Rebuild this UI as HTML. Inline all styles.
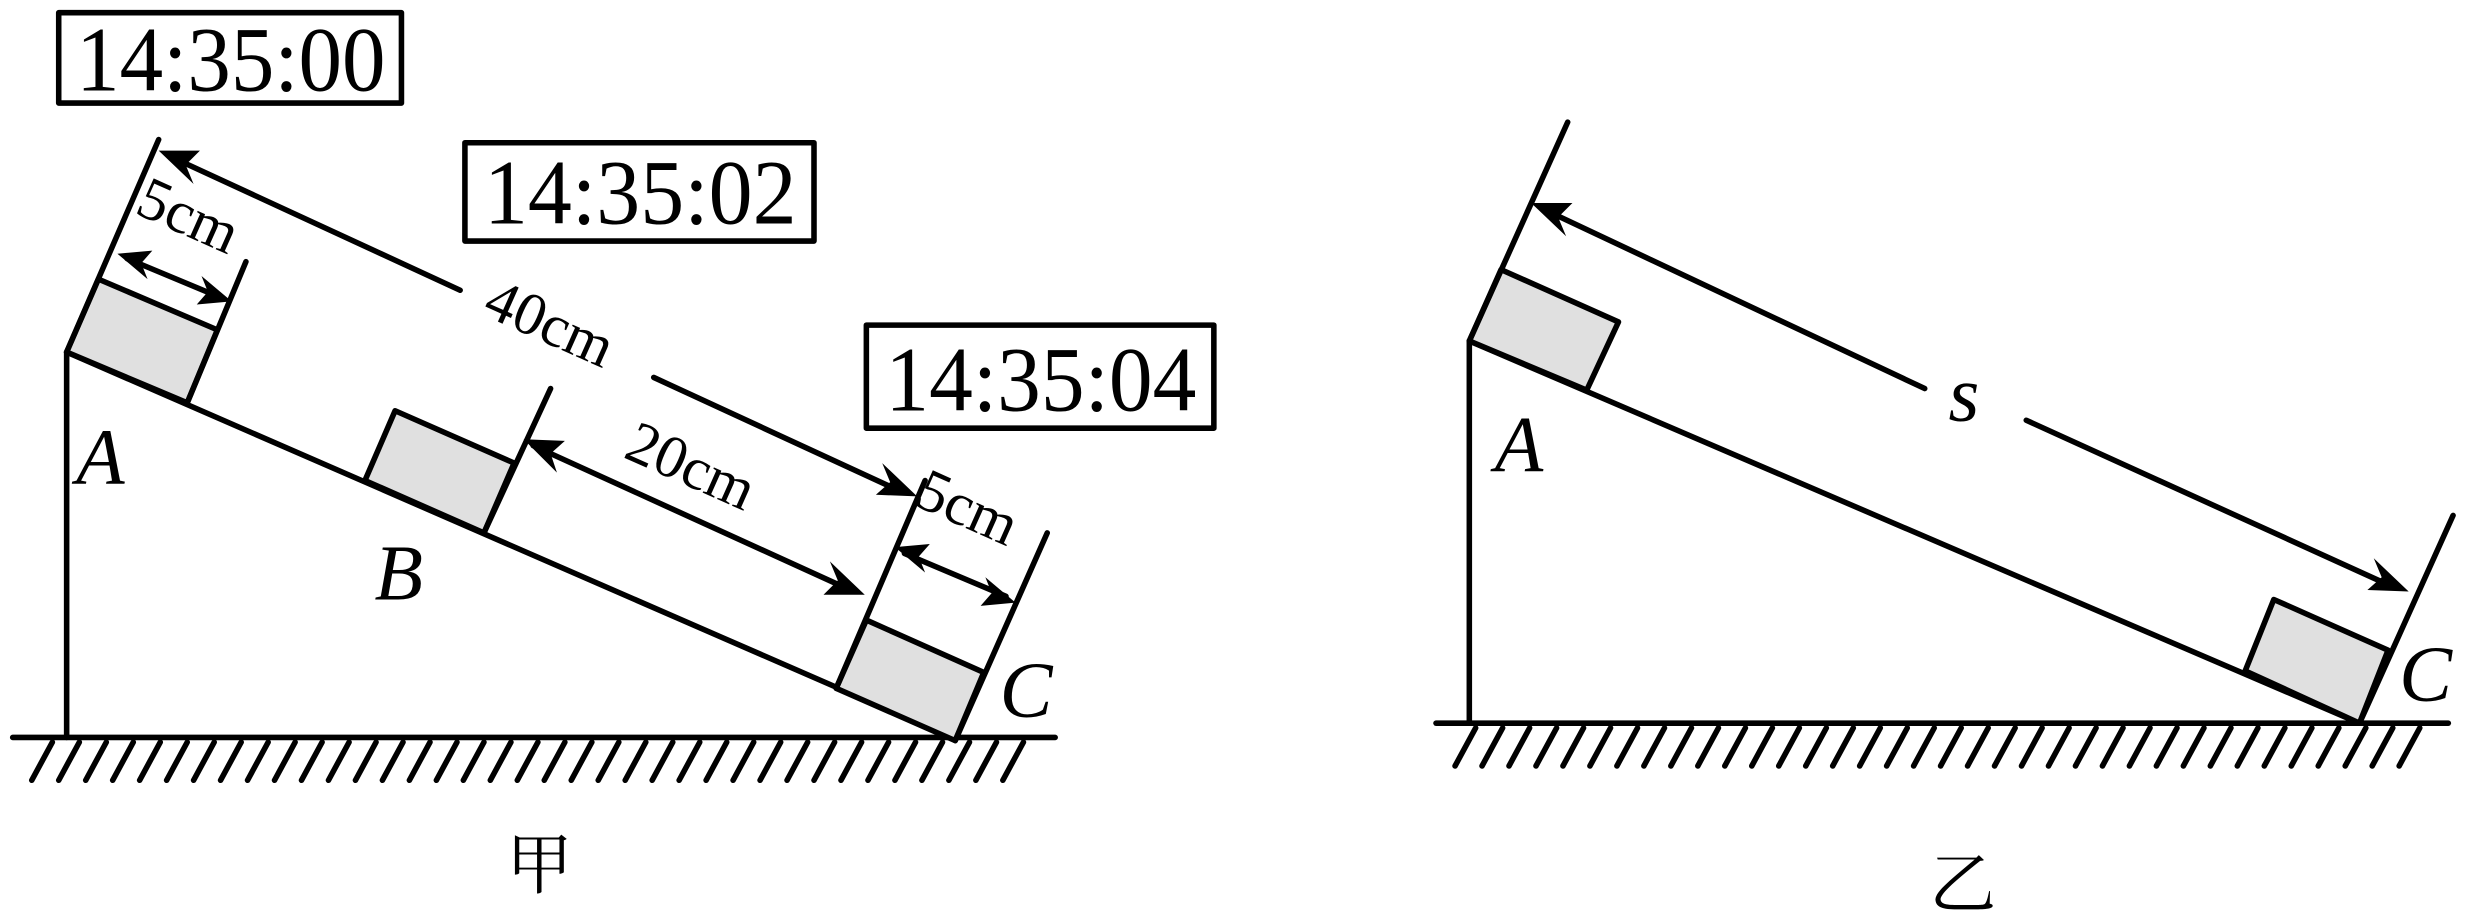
<!DOCTYPE html>
<html><head><meta charset="utf-8"><style>
html,body{margin:0;padding:0;background:#fff;}
svg{display:block;}
svg text{font-family:"Liberation Serif","Times New Roman","DejaVu Serif","Noto Serif CJK SC",serif;}
</style></head><body>
<svg width="2488" height="923" viewBox="0 0 1568 582" preserveAspectRatio="none" xmlns="http://www.w3.org/2000/svg">
<g stroke="#000" stroke-width="3.5" fill="none" stroke-linejoin="round" stroke-linecap="round">
<line x1="42" y1="222" x2="42" y2="465"/>
<line x1="8" y1="465" x2="665" y2="465"/>
<path d="M33,468 L20,492 M50,468 L37,492 M67,468 L54,492 M84,468 L71,492 M101,468 L88,492 M118,468 L105,492 M135,468 L122,492 M152,468 L139,492 M169,468 L156,492 M186,468 L173,492 M203,468 L190,492 M220,468 L207,492 M237,468 L224,492 M254,468 L241,492 M271,468 L258,492 M288,468 L275,492 M305,468 L292,492 M322,468 L309,492 M339,468 L326,492 M356,468 L343,492 M373,468 L360,492 M390,468 L377,492 M407,468 L394,492 M424,468 L411,492 M441,468 L428,492 M458,468 L445,492 M475,468 L462,492 M492,468 L479,492 M509,468 L496,492 M526,468 L513,492 M543,468 L530,492 M560,468 L547,492 M577,468 L564,492 M594,468 L581,492 M611,468 L598,492 M628,468 L615,492 M645,468 L632,492"/>
<line x1="42" y1="222" x2="602" y2="466"/>
<polygon points="42,222 118,254 137,208 62,176" fill="#e0e0e0"/>
<line x1="42" y1="222" x2="100" y2="88"/>
<line x1="118" y1="254" x2="155" y2="165"/>
<polygon points="230,303 305,336 324,292 249,259" fill="#e0e0e0"/>
<line x1="305" y1="336" x2="347" y2="245"/>
<polygon points="527,434 602,467 620,424 546,391" fill="#e0e0e0"/>
<line x1="527" y1="434" x2="583" y2="303"/>
<line x1="602" y1="467" x2="660" y2="336"/>
<line x1="108" y1="99" x2="290" y2="183"/>
<line x1="412" y1="238" x2="568" y2="310"/>
<line x1="336" y1="281" x2="538" y2="373"/>
<line x1="80" y1="163" x2="140" y2="188"/>
<line x1="570" y1="349" x2="634" y2="376"/>
<rect x="37" y="8" width="216" height="57" fill="#fff"/>
<rect x="293" y="90" width="220" height="62" fill="#fff"/>
<rect x="546" y="205" width="219" height="65" fill="#fff"/>

<line x1="926" y1="215" x2="926" y2="456"/>
<line x1="905" y1="456" x2="1543" y2="456"/>
<path d="M930,459 L917,483 M947,459 L934,483 M964,459 L951,483 M981,459 L968,483 M998,459 L985,483 M1015,459 L1002,483 M1032,459 L1019,483 M1049,459 L1036,483 M1066,459 L1053,483 M1083,459 L1070,483 M1100,459 L1087,483 M1117,459 L1104,483 M1134,459 L1121,483 M1151,459 L1138,483 M1168,459 L1155,483 M1185,459 L1172,483 M1202,459 L1189,483 M1219,459 L1206,483 M1236,459 L1223,483 M1253,459 L1240,483 M1270,459 L1257,483 M1287,459 L1274,483 M1304,459 L1291,483 M1321,459 L1308,483 M1338,459 L1325,483 M1355,459 L1342,483 M1372,459 L1359,483 M1389,459 L1376,483 M1406,459 L1393,483 M1423,459 L1410,483 M1440,459 L1427,483 M1457,459 L1444,483 M1474,459 L1461,483 M1491,459 L1478,483 M1508,459 L1495,483 M1525,459 L1512,483"/>
<line x1="926" y1="215" x2="1487" y2="456"/>
<polygon points="926,215 1000,246 1020,203 946,170" fill="#e0e0e0"/>
<line x1="926" y1="215" x2="988" y2="77"/>
<polygon points="1415,423 1487,456 1505,410 1433,378" fill="#e0e0e0"/>
<line x1="1487" y1="456" x2="1546" y2="325"/>
<line x1="975" y1="133" x2="1213" y2="245"/>
<line x1="1277" y1="265" x2="1508" y2="370"/>
</g>
<g fill="#000">
<polygon points="100,95 126,95 117,104 122,116"/>
<polygon points="578,313 552,312 561,304 556,292"/>
<polygon points="330,277 356,278 347,286 351,298"/>
<polygon points="545,375 519,375 528,366 523,354"/>
<polygon points="74,160 96,158 89,166 93,176"/>
<polygon points="146,190 124,192 131,184 127,174"/>
<polygon points="564,345 586,343 579,351 583,361"/>
<polygon points="640,380 618,382 625,374 621,364"/>
<polygon points="965,128 991,128 982,137 987,149"/>
<polygon points="1518,373 1492,372 1501,364 1496,352"/>
</g>
<g font-size="58">
<text x="48" y="57" textLength="195" lengthAdjust="spacingAndGlyphs">14:35:00</text>
<text x="305" y="141" textLength="197" lengthAdjust="spacingAndGlyphs">14:35:02</text>
<text x="558" y="259" textLength="196" lengthAdjust="spacingAndGlyphs">14:35:04</text>
</g>
<g font-size="38">
<text transform="translate(84,134) rotate(24)">5cm</text>
<text transform="translate(303,198) rotate(24)">40cm</text>
<text transform="translate(392,288) rotate(24)">20cm</text>
<text transform="translate(575,318) rotate(24)">5cm</text>
</g>
<g font-size="50" font-style="italic">
<text x="48" y="305">A</text>
<text x="236" y="378">B</text>
<text x="630" y="452">C</text>
<text x="942" y="297">A</text>
<text x="1512" y="442">C</text>
<text x="1228" y="265">s</text>
</g>
<g font-size="42">
<text x="340" y="560" text-anchor="middle">甲</text>
<text x="1237" y="572" text-anchor="middle">乙</text>
</g>
</svg>
</body></html>
